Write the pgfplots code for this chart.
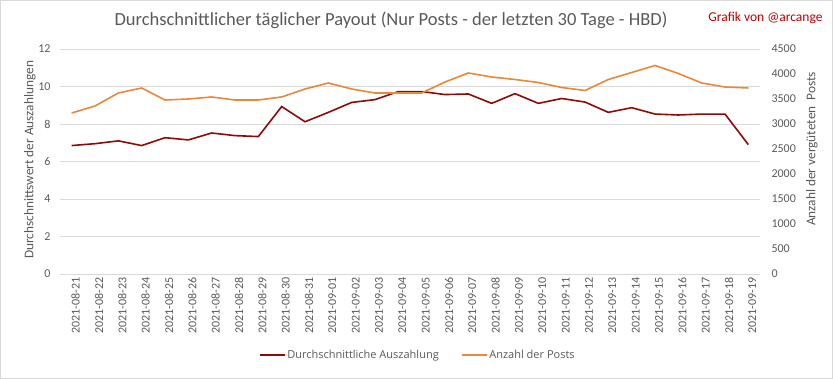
\documentclass[border=0pt]{standalone}
\usepackage{fontspec}
\setmainfont{Carlito}
\newfontfamily\osans{Open Sans}
\usepackage{pgfplots}
\pgfplotsset{compat=1.18}
\definecolor{cred}{HTML}{8B0A0A}
\definecolor{corange}{HTML}{E8873D}
\definecolor{tgray}{HTML}{595959}
\definecolor{ggray}{HTML}{D9D9D9}
\begin{document}
\begin{tikzpicture}
\path[use as bounding box] (0pt,0pt) rectangle (833pt,379pt);
\draw[ggray] (0.5pt,0.5pt) rectangle (832.5pt,378.5pt);
\node[font=\fontsize{18.5}{21}\selectfont, text=tgray] at (391pt,359pt) {Durchschnittlicher täglicher Payout (Nur Posts - der letzten 30 Tage - HBD)};
\node[font=\fontsize{13.5}{15}\selectfont, text=red!75!black, anchor=east] at (826pt,361pt) {Grafik von @arcange};
\begin{axis}[
  at={(60pt,105pt)}, anchor=south west, scale only axis,
  width=700pt, height=225pt,
  xmin=-0.5, xmax=29.5, ymin=0, ymax=12,
  ytick={0,2,...,12},
  ymajorgrids, grid style={ggray},
  axis line style={draw=none},
  major tick length=0pt,
  xtick={0,...,29},
  xticklabels={2021-08-21,2021-08-22,2021-08-23,2021-08-24,2021-08-25,2021-08-26,2021-08-27,2021-08-28,2021-08-29,2021-08-30,2021-08-31,2021-09-01,2021-09-02,2021-09-03,2021-09-04,2021-09-05,2021-09-06,2021-09-07,2021-09-08,2021-09-09,2021-09-10,2021-09-11,2021-09-12,2021-09-13,2021-09-14,2021-09-15,2021-09-16,2021-09-17,2021-09-18,2021-09-19},
  xticklabel style={rotate=90, anchor=east, font=\fontsize{12}{14}\selectfont, text=tgray, yshift=-4pt},
  yticklabel style={font=\fontsize{12}{14}\selectfont, text=tgray, xshift=-6pt},
  /pgf/number format/assume math mode=true,
  ylabel={Durchschnittswert der Auszahlungen},
  ylabel style={at={(axis description cs:-0.043,0.507)}, anchor=center, font=\fontsize{13.3}{15}\selectfont, text=tgray},
]
\addplot[cred, line width=1.6pt] coordinates {
(0,6.85) (1,6.95) (2,7.1) (3,6.85) (4,7.27) (5,7.15) (6,7.52) (7,7.38) (8,7.33) (9,8.93)
(10,8.12) (11,8.62) (12,9.15) (13,9.3) (14,9.73) (15,9.73) (16,9.57) (17,9.6) (18,9.1) (19,9.62)
(20,9.1) (21,9.36) (22,9.17) (23,8.62) (24,8.87) (25,8.53) (26,8.48) (27,8.53) (28,8.53) (29,6.9)};
\end{axis}
\begin{axis}[
  at={(60pt,105pt)}, anchor=south west, scale only axis,
  width=700pt, height=225pt,
  xmin=-0.5, xmax=29.5, ymin=0, ymax=4500,
  ytick={0,500,...,4500},
  axis x line=none, axis y line*=right,
  axis line style={draw=none},
  major tick length=0pt,
  yticklabel style={font=\fontsize{12}{14}\selectfont, text=tgray, xshift=8pt},
  /pgf/number format/assume math mode=true,
  /pgf/number format/1000 sep={},
  ylabel={Anzahl der vergüteten\ \ Posts},
  ylabel style={at={(axis description cs:1.074,0.556)}, anchor=center, font=\fontsize{13.3}{15}\selectfont, text=tgray},
  legend style={at={(0.511,-0.36)}, anchor=center, draw=none, fill=none, font=\osans\fontsize{11}{13}\selectfont, text=tgray, /tikz/every even column/.append style={column sep=20pt}},
  legend columns=2,
  legend image code/.code={\draw[#1] (0pt,0pt) -- (25pt,0pt);},
]
\addlegendimage{cred, line width=1.6pt}
\addlegendentry{Durchschnittliche Auszahlung}
\addplot[corange, line width=1.6pt] coordinates {
(0,3220) (1,3360) (2,3620) (3,3720) (4,3480) (5,3500) (6,3540) (7,3480) (8,3480) (9,3540)
(10,3700) (11,3820) (12,3700) (13,3620) (14,3620) (15,3620) (16,3840) (17,4020) (18,3940) (19,3890)
(20,3830) (21,3730) (22,3670) (23,3890) (24,4030) (25,4170) (26,4010) (27,3820) (28,3740) (29,3720)};
\addlegendentry{Anzahl der Posts}
\end{axis}
\end{tikzpicture}
\end{document}
